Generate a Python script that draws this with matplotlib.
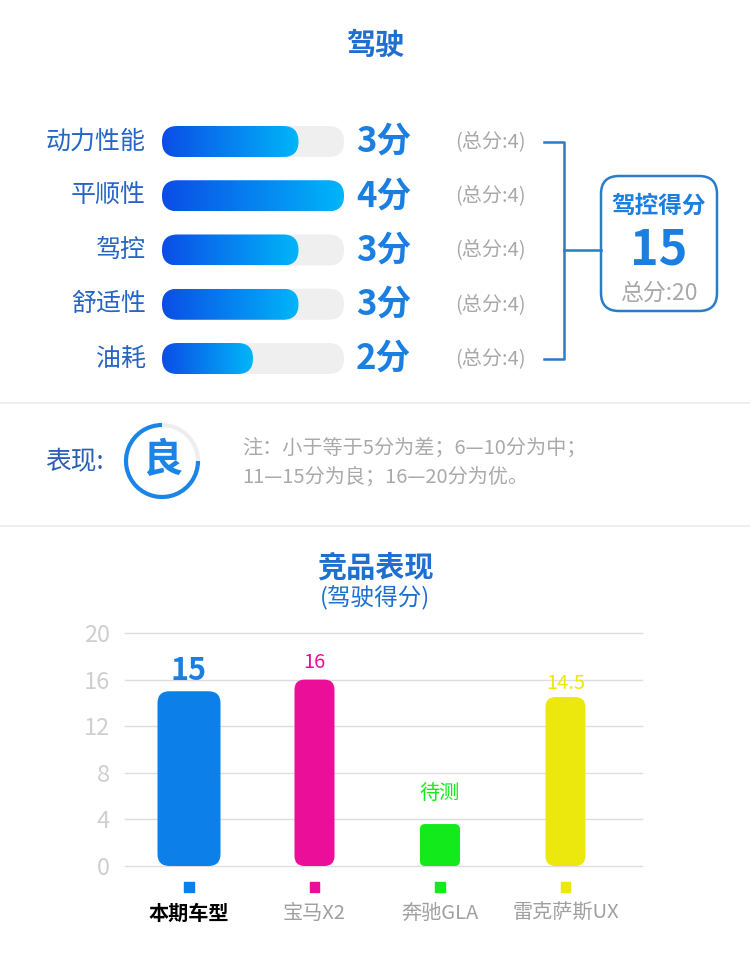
import numpy as np
import matplotlib
matplotlib.use('Agg')
import matplotlib.pyplot as plt
from matplotlib import patches, transforms
from matplotlib.colors import LinearSegmentedColormap

plt.rcParams['font.family'] = ['Noto Sans CJK SC', 'DejaVu Sans']

# data
title = '驾驶'
items = ['动力性能', '平顺性', '驾控', '舒适性', '油耗']
scores = [3, 4, 3, 3, 2]
item_max = 4
total_label = '驾控得分'
total_score = 15
total_max = 20
level = '良'
note_lines = ['注：小于等于5分为差；6—10分为中；', '11—15分为良；16—20分为优。']

comp_title = '竞品表现'
comp_subtitle = '(驾驶得分)'
cars = ['本期车型', '宝马X2', '奔驰GLA', '雷克萨斯UX']
car_scores = [15, 16, 3.6, 14.5]
car_labels = ['15', '16', '待测', '14.5']
y_ticks = [0, 4, 8, 12, 16, 20]

# style
W, H = 750, 969
blue = '#1a7fe0'
title_blue = '#1e6fd0'
label_blue = '#2566c4'
gray = '#a8a8a8'
car_colors = ['#0c80e8', '#ea0e98', '#12ea1c', '#ece80e']
bar_px = [63, 40, 40, 40]
corner_px = [12, 10, 5, 10]
label_gap_px = [20, 17, 31, 14]
label_sizes = [22, 14.5, 14.5, 14.5]

fig = plt.figure(figsize=(W / 100, H / 100), dpi=100)
bg = fig.add_axes([0, 0, 1, 1])
bg.set_xlim(0, W)
bg.set_ylim(H, 0)
bg.axis('off')


def px_axes(left, top, right, bottom):
    return fig.add_axes([left / W, 1 - bottom / H, (right - left) / W, (bottom - top) / H])


bg.text(375, 45, title, ha='center', va='center', fontsize=21, fontweight='bold', color=title_blue)

# score rows
row0, row_step = 141.5, 54.25
rows_y = [row0 + i * row_step for i in range(len(items))]
track_l, track_r = 162, 344
hax = px_axes(track_l, row0 - row_step / 2, track_r, rows_y[-1] + row_step / 2)
hax.axis('off')
px_x = (track_r - track_l) / item_max
ma = px_x / row_step
bar_h = 31 / row_step
rad = 15.4 / px_x
cmap = LinearSegmentedColormap.from_list('g', ['#0b4de6', '#00b6f9'])
grad = np.linspace(0, 1, 256).reshape(1, -1)
for i, v in enumerate(scores):
    track = patches.FancyBboxPatch((0, i - bar_h / 2), item_max, bar_h,
                                   boxstyle=f'round,pad=0,rounding_size={rad}',
                                   mutation_aspect=ma, fc='#efefef', ec='none', zorder=1)
    hax.add_patch(track)
    fill = patches.FancyBboxPatch((0, i - bar_h / 2), v, bar_h,
                                  boxstyle=f'round,pad=0,rounding_size={rad}',
                                  mutation_aspect=ma, fc='none', ec='none')
    hax.add_patch(fill)
    im = hax.imshow(grad, extent=(0, v, i + bar_h / 2, i - bar_h / 2), cmap=cmap,
                    aspect='auto', zorder=2, interpolation='bilinear')
    im.set_clip_path(fill)
hax.set_xlim(0, item_max)
hax.set_ylim(len(items) - 0.5, -0.5)

for y, name, v in zip(rows_y, items, scores):
    bg.text(146, y, name, ha='right', va='center', fontsize=18, color=label_blue)
    bg.text(356, y, f'{v}分', ha='left', va='center', fontsize=25, fontweight='bold', color=blue)
    bg.text(455, y, f'(总分:{item_max})', ha='left', va='center', fontsize=14.5, color=gray)

# bracket
lc = '#2a7cc8'
mid = (rows_y[0] + rows_y[-1]) / 2
bg.plot([544, 564, 564, 544], [rows_y[0], rows_y[0], rows_y[-1], rows_y[-1]], color=lc, lw=1.8)
bg.plot([564, 601], [mid, mid], color=lc, lw=1.8)
bg.add_patch(patches.FancyBboxPatch((601, 176), 116, 135, boxstyle='round,pad=0,rounding_size=18',
                                    fc='white', ec=lc, lw=1.8))
bg.text(659, 206, total_label, ha='center', va='center', fontsize=17, fontweight='bold', color=blue)
bg.text(659, 250, str(total_score), ha='center', va='center', fontsize=35, fontweight='bold', color=blue)
bg.text(659, 293, f'总分:{total_max}', ha='center', va='center', fontsize=16.5, color=gray)

# separators
for y in [403, 526]:
    bg.plot([0, W], [y, y], color='#eeeeee', lw=1.5)

# level
bg.text(45, 462, '表现:', ha='left', va='center', fontsize=18.5, color='#2a5fb5')
cx, cy, r = 162, 461, 36
frac = total_score / total_max
bg.add_patch(patches.Arc((cx, cy), 2 * r, 2 * r, theta1=0, theta2=360 * frac, color='#1a85e6', lw=3))
bg.add_patch(patches.Arc((cx, cy), 2 * r, 2 * r, theta1=360 * frac, theta2=360, color='#eeeeee', lw=3))
bg.text(cx, cy, level, ha='center', va='center', fontsize=29, fontweight='bold', color='#1a85e6')
for k, line in enumerate(note_lines):
    bg.text(242, 448 + k * 29, line, ha='left', va='center', fontsize=14.5, color='#aaaaaa')

# competitor chart
bg.text(375, 567, comp_title, ha='center', va='center', fontsize=21, fontweight='bold', color=title_blue)
bg.text(375, 598, comp_subtitle, ha='center', va='center', fontsize=17, color=title_blue)

ax = px_axes(125, 633, 642, 866)
xmin, xmax = -0.51, 3.61
ax.set_xlim(xmin, xmax)
ax.set_ylim(0, 20)
unit_x = 517 / (xmax - xmin)
unit_y = 233 / 20
bma = unit_x / unit_y
for spine in ax.spines.values():
    spine.set_visible(False)
ax.set_yticks(y_ticks)
ax.set_xticks([])
ax.tick_params(axis='y', length=0, pad=11, labelsize=17, labelcolor='#cfcfcf')
ax.yaxis.grid(True, color='#dddddd', lw=1)
for gl in ax.get_ygridlines():
    gl.set_clip_on(False)
ax.set_axisbelow(True)

for i, v in enumerate(car_scores):
    w = bar_px[i] / unit_x
    ax.add_patch(patches.FancyBboxPatch((i - w / 2, 0), w, v,
                                        boxstyle=f'round,pad=0,rounding_size={corner_px[i] / unit_x}',
                                        mutation_aspect=bma, fc=car_colors[i], ec='none', zorder=3))
    ax.annotate(car_labels[i], (i, v), xytext=(0, label_gap_px[i] * 0.72), textcoords='offset points',
                ha='center', va='center', fontsize=label_sizes[i], color=car_colors[i] if i else blue,
                fontweight='bold' if i == 0 else 'normal', annotation_clip=False)

blend = transforms.blended_transform_factory(ax.transData, bg.transData)
xs = np.arange(len(cars))
ax.scatter(xs, [887] * len(cars), marker='s', s=50, c=car_colors, transform=blend, clip_on=False)
for i, name in enumerate(cars):
    ax.text(i, 913, name, transform=blend, ha='center', va='center', fontsize=14.5,
            color='black' if i == 0 else '#a0a0a0', fontweight='bold' if i == 0 else 'normal')

fig.savefig('out.png', dpi=100)
